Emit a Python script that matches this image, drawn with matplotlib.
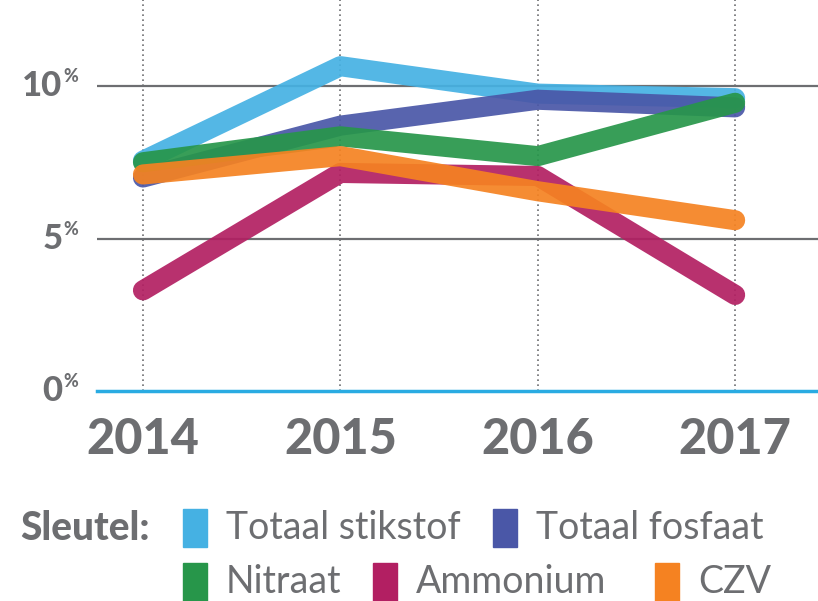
import matplotlib.pyplot as plt
from matplotlib.patches import Rectangle

# Data (percentages)
jaren = [2014, 2015, 2016, 2017]
totaal_stikstof = [7.55, 10.65, 9.75, 9.6]
totaal_fosfaat = [7.0, 8.7, 9.55, 9.3]
nitraat = [7.5, 8.35, 7.7, 9.45]
ammonium = [3.3, 7.15, 7.05, 3.15]
czv = [7.1, 7.7, 6.55, 5.6]

reeksen = [
    ('Totaal stikstof', totaal_stikstof, '#45B1E3'),
    ('Totaal fosfaat', totaal_fosfaat, '#4A57A7'),
    ('Nitraat', nitraat, '#27964A'),
    ('Ammonium', ammonium, '#B21F62'),
    ('CZV', czv, '#F58221'),
]
y_ticks = [0, 5, 10]

grijs = '#6D6E71'
plt.rcParams['font.family'] = ['Lato', 'DejaVu Sans']

fig = plt.figure(figsize=(8.18, 6.01), dpi=100)
ax = fig.add_axes([97 / 818, 1 - 391 / 601, 721 / 818, 391 / 601])
ax.set_xlim(2013.767, 2017.42)
ax.set_ylim(0, 12.82)

# dotted verticals at each year
for j in jaren:
    ax.axvline(j, color=grijs, lw=1.2, ls=(0, (1, 2)), zorder=1)

# gridlines
for t in [5, 10]:
    ax.axhline(t, color=grijs, lw=1.6, zorder=1, xmin=-0.005)
ax.axhline(0, color='#29ABE2', lw=2.5, zorder=1, clip_on=False)

for naam, waarden, kleur in reeksen:
    ax.plot(jaren, waarden, color=kleur, lw=14.5, alpha=0.92,
            solid_capstyle='round', solid_joinstyle='round', zorder=3)

for s in ax.spines.values():
    s.set_visible(False)
ax.set_xticks(jaren)
ax.set_xticklabels([str(j) for j in jaren], fontsize=35, fontweight='black',
                   color=grijs)
ax.tick_params(axis='x', length=0, pad=19)
ax.set_yticks(y_ticks)
ax.set_yticklabels([])
ax.tick_params(axis='y', length=0)

# y labels with small raised percent sign
for t in y_ticks:
    ax.annotate(str(t), xy=(0, t), xycoords=('axes fraction', 'data'),
                xytext=(-25, 0), textcoords='offset points',
                ha='right', va='center', fontsize=25, fontweight='black',
                color=grijs)
    ax.annotate('%', xy=(0, t), xycoords=('axes fraction', 'data'),
                xytext=(-24.5, 6.5), textcoords='offset points',
                ha='left', va='center', fontsize=13, fontweight='black',
                color=grijs)

# legend
fig.text(20 / 818, 1 - 528 / 601, 'Sleutel:', fontsize=28, fontweight='black',
         color=grijs, ha='left', va='center')
posities = [(183, 528), (493, 528), (183, 582), (373, 582), (655, 582)]
for (naam, waarden, kleur), (px, py) in zip(reeksen, posities):
    fig.patches.append(Rectangle((px / 818, 1 - (py + 19) / 601), 24 / 818, 38 / 601,
                                 transform=fig.transFigure, color=kleur))
    fig.text((px + 43) / 818, 1 - py / 601, naam, fontsize=27, fontweight='normal',
             color=grijs, ha='left', va='center')

fig.savefig('out.png', dpi=100)
